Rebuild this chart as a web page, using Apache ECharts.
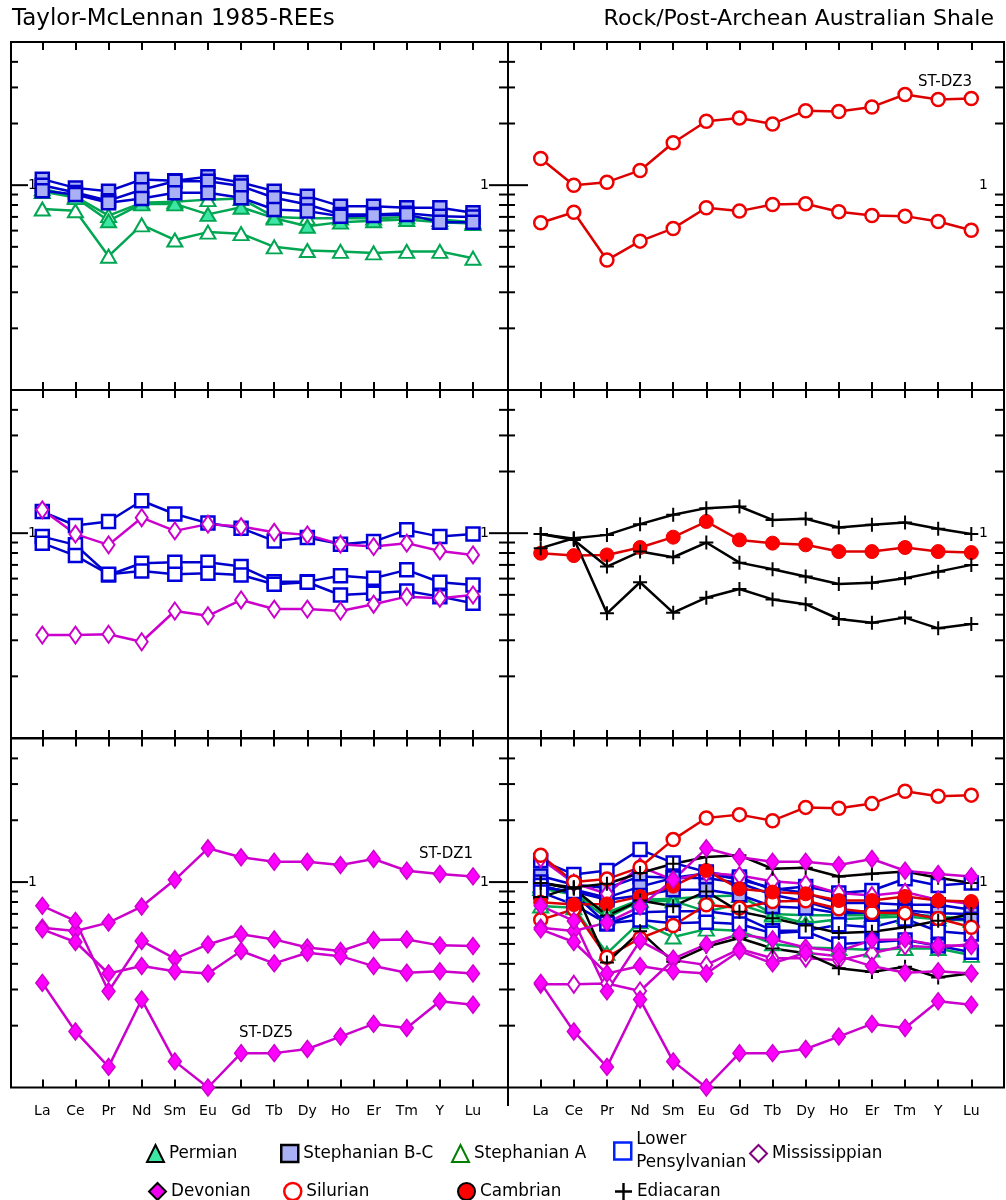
<!DOCTYPE html>
<html><head><meta charset="utf-8">
<script src="https://cdn.jsdelivr.net/npm/echarts@6/dist/echarts.min.js"></script>
<style>html,body{margin:0;padding:0;background:#fff}#c{width:1006px;height:1200px}</style>
</head><body><div id="c"></div>
<script>
const FONT = "'DejaVu Sans',sans-serif";

// ---------------- data ----------------
const categories = ['La','Ce','Pr','Nd','Sm','Eu','Gd','Tb','Dy','Ho','Er','Tm','Y','Lu'];
const yMin = 0.1, yMax = 5;
const yTickMinor = [0.2,0.3,0.4,0.5,0.6,0.7,0.8,0.9,2,3,4];
const yTickMajor = [1];
const yTickLabels = ['1'];

const permian1   = [0.93,0.87,0.67,0.81,0.81,0.72,0.78,0.69,0.63,0.66,0.67,0.68,0.66,0.65];
const stephBC1   = [1.07,0.97,0.935,1.066,1.05,1.10,1.03,0.935,0.884,0.79,0.79,0.776,0.776,0.733];
const stephBC2   = [1.00,0.92,0.84,0.95,1.046,1.046,0.99,0.868,0.805,0.72,0.72,0.73,0.706,0.70];
const stephBC3   = [0.94,0.90,0.82,0.86,0.918,0.918,0.868,0.761,0.747,0.706,0.711,0.72,0.66,0.66];
const stephA1    = [0.96,0.88,0.71,0.82,0.83,0.85,0.86,0.70,0.69,0.69,0.69,0.70,0.68,0.66];
const stephA2    = [0.765,0.75,0.45,0.64,0.54,0.59,0.58,0.50,0.48,0.475,0.467,0.475,0.475,0.44];
const lowerPenn1 = [1.275,1.09,1.14,1.44,1.24,1.12,1.058,0.917,0.952,0.884,0.91,1.038,0.962,0.99];
const lowerPenn2 = [0.962,0.877,0.625,0.713,0.721,0.721,0.687,0.58,0.58,0.62,0.603,0.662,0.576,0.559];
const lowerPenn3 = [0.894,0.777,0.63,0.654,0.63,0.637,0.625,0.563,0.576,0.499,0.509,0.522,0.49,0.455];
const miss1      = [1.30,0.99,0.877,1.19,1.026,1.107,1.077,1.01,0.981,0.884,0.86,0.894,0.819,0.783];
const miss2      = [0.318,0.318,0.321,0.295,0.417,0.395,0.472,0.426,0.426,0.417,0.45,0.49,0.481,0.499];
const devonian1  = [0.60,0.578,0.635,0.76,1.026,1.46,1.32,1.256,1.256,1.21,1.296,1.136,1.094,1.066];
const devonian2  = [0.766,0.647,0.294,0.517,0.424,0.497,0.557,0.526,0.48,0.462,0.522,0.526,0.492,0.488];
const devonian3  = [0.589,0.511,0.359,0.39,0.368,0.359,0.462,0.402,0.453,0.436,0.39,0.362,0.368,0.359];
const devonian4  = [0.323,0.1875,0.126,0.268,0.134,0.10,0.147,0.147,0.154,0.177,0.204,0.195,0.263,0.253];
const silurian1  = [1.35,1.0,1.034,1.18,1.61,2.05,2.13,1.99,2.31,2.29,2.41,2.77,2.62,2.65];
const silurian2  = [0.655,0.738,0.431,0.533,0.615,0.776,0.747,0.805,0.811,0.742,0.711,0.706,0.665,0.603];
const cambrian1  = [0.798,0.777,0.783,0.851,0.956,1.14,0.927,0.894,0.877,0.813,0.813,0.851,0.813,0.804];
const ediacaran1 = [0.845,0.945,0.981,1.107,1.229,1.325,1.35,1.161,1.175,1.065,1.098,1.127,1.05,0.99];
const ediacaran2 = [0.99,0.927,0.687,0.813,0.763,0.90,0.718,0.667,0.614,0.565,0.573,0.603,0.649,0.70];
const ediacaran3 = [0.99,0.94,0.406,0.576,0.409,0.484,0.534,0.475,0.45,0.381,0.365,0.387,0.343,0.36];

const groups = {
  'Stephanian A': [stephA1, stephA2],
  'Permian': [permian1],
  'Stephanian B-C': [stephBC1, stephBC2, stephBC3],
  'Lower Pensylvanian': [lowerPenn1, lowerPenn2, lowerPenn3],
  'Mississippian': [miss1, miss2],
  'Silurian': [silurian1, silurian2],
  'Cambrian': [cambrian1],
  'Ediacaran': [ediacaran1, ediacaran2, ediacaran3],
  'Devonian': [devonian1, devonian2, devonian3, devonian4]
};

// ---------------- styles / layout ----------------
const PLUS = 'path://M6,0h2v6h6v2h-6v6h-2v-6h-6v-2h6z';
const styles = {
  'Permian':            {symbol:'triangle', size:[15,13], line:'#00a651', fill:'#3ee6a6', border:'#00a651', bw:2},
  'Stephanian B-C':     {symbol:'rect', size:13, line:'#0000cc', fill:'#aab0f5', border:'#0000cc', bw:2.5},
  'Stephanian A':       {symbol:'triangle', size:[15,13], line:'#00a651', fill:'#ffffff', border:'#00a651', bw:2},
  'Lower Pensylvanian': {symbol:'rect', size:13, line:'#0000cc', fill:'#ffffff', border:'#0000dd', bw:2.5},
  'Mississippian':      {symbol:'diamond', size:[12,17], line:'#cc00cc', fill:'#ffffff', border:'#cc00cc', bw:2},
  'Devonian':           {symbol:'diamond', size:[13,17], line:'#cc00cc', fill:'#ff00ff', border:'#cc00cc', bw:1.5},
  'Silurian':           {symbol:'circle', size:13, line:'#dd0000', fill:'#ffffff', border:'#ee0000', bw:2.5},
  'Cambrian':           {symbol:'circle', size:14, line:'#dd0000', fill:'#ff0000', border:'#ee0000', bw:1},
  'Ediacaran':          {symbol:PLUS, size:14, line:'#000000', fill:'#000000', border:'#000000', bw:0}
};

const cols = [{fl:11, fw:497, dl:42.3, dw:430.7}, {fl:508, fw:496, dl:540.7, dw:430.6}];
const rows = [{top:42, h:348}, {top:390, h:348}, {top:738.5, h:349}];

const panels = [
  {c:0, r:0, names:['Stephanian A','Permian','Stephanian B-C']},
  {c:1, r:0, names:['Silurian']},
  {c:0, r:1, names:['Lower Pensylvanian','Mississippian']},
  {c:1, r:1, names:['Cambrian','Ediacaran']},
  {c:0, r:2, names:['Devonian']},
  {c:1, r:2, names:['Stephanian A','Permian','Stephanian B-C','Lower Pensylvanian','Mississippian','Silurian','Cambrian','Ediacaran','Devonian']}
];

function tickSeries(xi, yi, col) {
  const data = yTickMinor.map(v => [0, v]).concat(yTickMajor.map(v => [1, v]));
  return {
    type:'custom', xAxisIndex:xi, yAxisIndex:yi, silent:true, clip:false, z:5, animation:false,
    data,
    renderItem: (params, api) => {
      const major = api.value(0) === 1;
      const v = api.value(1);
      const L = api.coord([0, v]), R = api.coord([1, v]);
      const ls = {stroke:'#000', lineWidth:2};
      const lenL = major ? (col === 0 ? 17 : 20) : 7;
      const lenR = major ? (col === 0 ? 19 : 0) : 9;
      const ch = [{type:'line', shape:{x1:L[0], y1:L[1], x2:L[0] + lenL, y2:L[1]}, style:ls}];
      if (lenR > 0) ch.push({type:'line', shape:{x1:R[0] - lenR, y1:R[1], x2:R[0], y2:R[1]}, style:ls});
      if (major) {
        const lab = yTickLabels[params.dataIndex - yTickMinor.length];
        const ts = {text:lab, fontSize:14, fontFamily:FONT, fill:'#000', verticalAlign:'middle'};
        if (col === 0) ch.push({type:'text', x:L[0] + lenL, y:L[1], style:Object.assign({align:'left'}, ts)});
        ch.push({type:'text', x:R[0] - (col === 0 ? 19 : 16), y:R[1], style:Object.assign({align:'right'}, ts)});
      }
      return {type:'group', children:ch};
    }
  };
}

function lineSeries(name, arr, xi, yi) {
  const s = styles[name];
  return {
    type:'line', name, xAxisIndex:xi, yAxisIndex:yi, data:arr,
    symbol:s.symbol, symbolSize:s.size, showAllSymbol:true, clip:false, animation:false,
    lineStyle:{color:s.line, width:2.5},
    itemStyle:{color:s.fill, borderColor:s.border, borderWidth:s.bw},
    emphasis:{disabled:true}
  };
}

const grid = [], xAxis = [], yAxis = [], series = [];
const tickCfg = {show:true, inside:true, length:8, interval:0, lineStyle:{color:'#000', width:2}};
panels.forEach(p => {
  const c = cols[p.c], rw = rows[p.r];
  const gF = grid.length;
  grid.push({left:c.fl, top:rw.top, width:c.fw, height:rw.h, show:true, borderColor:'#000', borderWidth:2, backgroundColor:'transparent'});
  const gD = grid.length;
  grid.push({left:c.dl, top:rw.top, width:c.dw, height:rw.h, show:false});
  const xF = xAxis.length; xAxis.push({gridIndex:gF, type:'value', min:0, max:1, show:false});
  const yF = yAxis.length; yAxis.push({gridIndex:gF, type:'log', logBase:10, min:yMin, max:yMax, show:false});
  const xD = xAxis.length;
  xAxis.push({gridIndex:gD, type:'category', data:categories, boundaryGap:false, position:'bottom',
    axisLine:{show:false, onZero:false}, axisTick:tickCfg,
    axisLabel:{show:p.r === 2, interval:0, margin:17, color:'#000', fontSize:14, fontFamily:FONT},
    splitLine:{show:false}});
  xAxis.push({gridIndex:gD, type:'category', data:categories, boundaryGap:false, position:'top',
    axisLine:{show:false, onZero:false}, axisTick:tickCfg, axisLabel:{show:false}, splitLine:{show:false}});
  const yD = yAxis.length; yAxis.push({gridIndex:gD, type:'log', logBase:10, min:yMin, max:yMax, show:false});
  series.push(tickSeries(xF, yF, p.c));
  p.names.forEach(name => groups[name].forEach(arr => series.push(lineSeries(name, arr, xD, yD))));
});

const legendItems = [
  {name:'Permian', left:146, cy:1151, icon:'triangle', st:{color:'#3ee6a6', borderColor:'#000', borderWidth:2}},
  {name:'Stephanian B-C', left:280, cy:1151, icon:'rect', st:{color:'#aab0f5', borderColor:'#000', borderWidth:2.5}},
  {name:'Stephanian A', left:451, cy:1151, icon:'triangle', st:{color:'#ffffff', borderColor:'#008000', borderWidth:2}},
  {name:'Lower Pensylvanian', left:613, cy:1151, icon:'rect', st:{color:'#ffffff', borderColor:'#0022ff', borderWidth:2.5}},
  {name:'Mississippian', left:749, cy:1151, icon:'diamond', st:{color:'#ffffff', borderColor:'#800080', borderWidth:2}},
  {name:'Devonian', left:148, cy:1189, icon:'diamond', st:{color:'#ee00ee', borderColor:'#000', borderWidth:2}},
  {name:'Silurian', left:283, cy:1189, icon:'circle', st:{color:'#ffffff', borderColor:'#ff0000', borderWidth:2.5}},
  {name:'Cambrian', left:457, cy:1189, icon:'circle', st:{color:'#ff0000', borderColor:'#000', borderWidth:2}},
  {name:'Ediacaran', left:615, cy:1189, icon:PLUS, st:{color:'#000', borderColor:'#000', borderWidth:0}}
];
const legend = legendItems.map(it => {
  const two = it.name === 'Lower Pensylvanian';
  return {
    left:it.left, top: two ? it.cy - 23 : it.cy - 9, padding:0, itemWidth:17, itemHeight:17, itemGap:0,
    selectedMode:false,
    textStyle:{fontSize:16.8, fontFamily:FONT, color:'#000', lineHeight:23},
    formatter: n => two ? 'Lower\nPensylvanian' : n,
    data:[{name:it.name, icon:it.icon, itemStyle:it.st}]
  };
});

const txt = (t, x, y) => ({type:'text', x, y, z:100,
  style:{text:t, fontSize:15, fontFamily:FONT, fill:'#000', align:'center', verticalAlign:'middle'}});

const option = {
  animation:false,
  backgroundColor:'#fff',
  title:[
    {text:'Taylor-McLennan 1985-REEs', left:12, top:8, padding:0,
     textStyle:{fontSize:23, fontWeight:'normal', fontFamily:FONT, color:'#000'}},
    {text:'Rock/Post-Archean Australian Shale', right:12, top:8, padding:0,
     textStyle:{fontSize:22, fontWeight:'normal', fontFamily:FONT, color:'#000'}}
  ],
  legend, grid, xAxis, yAxis, series,
  graphic:[
    txt('ST-DZ3', 945, 82),
    txt('ST-DZ1', 446, 854),
    txt('ST-DZ5', 266, 1033),
    {type:'line', z:100, shape:{x1:508, y1:1087, x2:508, y2:1106}, style:{stroke:'#000', lineWidth:2}}
  ]
};
const chart = echarts.init(document.getElementById('c'));
chart.setOption(option);
</script></body></html>
